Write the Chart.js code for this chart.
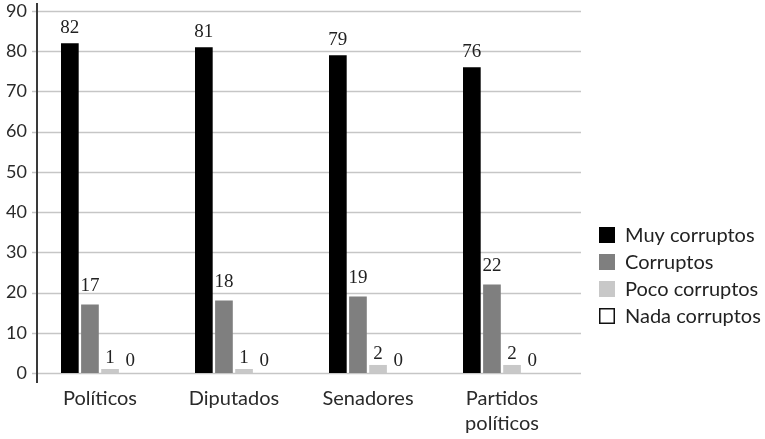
<!DOCTYPE html>
<html>
<head>
<meta charset="utf-8">
<script src="https://cdn.jsdelivr.net/npm/chart.js@4.4.1/dist/chart.umd.min.js"></script>
<style>
  html, body { margin: 0; padding: 0; background: #fff; }
  canvas { display: block; }
</style>
</head>
<body>
<canvas id="c" width="765" height="439"></canvas>
<script>
// Percepción de corrupción por institución (%)
const categories = ['Políticos', 'Diputados', 'Senadores', ['Partidos', 'políticos']];
const seriesNames = ['Muy corruptos', 'Corruptos', 'Poco corruptos', 'Nada corruptos'];
const muyCorruptos = [82, 81, 79, 76];
const corruptos = [17, 18, 19, 22];
const pocoCorruptos = [1, 1, 2, 2];
const nadaCorruptos = [0, 0, 0, 0];
const yMin = 0, yMax = 90, yStep = 10;

const seriesColors = ['#000000', '#7f7f7f', '#c8c8c8', '#ffffff'];
const labelGap = [10, 14, 6, 7];

const sansFont = 'Lato, "Open Sans", "DejaVu Sans", sans-serif';
const serifFont = '"Liberation Serif", "DejaVu Serif", serif';

// Horizontal grid, tick marks and the vertical axis line
const axisPlugin = {
  id: 'axisLines',
  beforeDatasetsDraw(chart) {
    const { ctx, chartArea } = chart;
    const y = chart.scales.y;
    const axisX = chartArea.left + 4;
    ctx.save();
    ctx.strokeStyle = '#c6c6c6';
    ctx.lineWidth = 1.6;
    y.ticks.forEach(t => {
      const py = Math.round(y.getPixelForValue(t.value)) + 0.5;
      ctx.beginPath();
      ctx.moveTo(axisX - 5, py);
      ctx.lineTo(chartArea.right + 12, py);
      ctx.stroke();
    });
    ctx.strokeStyle = '#3a3a3a';
    ctx.lineWidth = 2;
    ctx.beginPath();
    ctx.moveTo(axisX, chartArea.top - 8);
    ctx.lineTo(axisX, chartArea.bottom + 10);
    ctx.stroke();
    ctx.restore();
  }
};

// Value labels above each bar
const valueLabels = {
  id: 'valueLabels',
  afterDatasetsDraw(chart) {
    const { ctx } = chart;
    ctx.save();
    ctx.font = '19px ' + serifFont;
    ctx.fillStyle = '#222';
    ctx.textAlign = 'center';
    ctx.textBaseline = 'alphabetic';
    chart.data.datasets.forEach((ds, i) => {
      const meta = chart.getDatasetMeta(i);
      meta.data.forEach((bar, j) => {
        ctx.fillText(String(ds.data[j]), bar.x, bar.y - labelGap[i]);
      });
    });
    ctx.restore();
  }
};

// Legend on the right
const sideLegend = {
  id: 'sideLegend',
  afterDraw(chart) {
    const { ctx, chartArea } = chart;
    const x0 = chartArea.right + 30;
    const y0 = 235, step = 27, box = 16;
    ctx.save();
    ctx.font = '20px ' + sansFont;
    ctx.textBaseline = 'middle';
    ctx.textAlign = 'left';
    chart.data.datasets.forEach((ds, i) => {
      const cy = y0 + i * step;
      ctx.fillStyle = ds.backgroundColor;
      ctx.fillRect(x0, cy - box / 2, box, box);
      if (ds.legendBorder) {
        ctx.strokeStyle = '#111';
        ctx.lineWidth = 1.5;
        ctx.strokeRect(x0 + 0.75, cy - box / 2 + 0.75, box - 1.5, box - 1.5);
      }
      ctx.fillStyle = '#222';
      ctx.fillText(ds.label, x0 + 26, cy + 1);
    });
    ctx.restore();
  }
};

const seriesData = [muyCorruptos, corruptos, pocoCorruptos, nadaCorruptos];

new Chart(document.getElementById('c'), {
  type: 'bar',
  data: {
    labels: categories,
    datasets: seriesNames.map((name, i) => ({
      label: name,
      data: seriesData[i],
      backgroundColor: seriesColors[i],
      borderWidth: 0,
      legendBorder: i === 3,
      categoryPercentage: 0.6,
      barPercentage: 0.88
    }))
  },
  options: {
    responsive: false,
    animation: false,
    devicePixelRatio: 1,
    layout: { padding: { top: 11, right: 196, left: 0, bottom: 0 } },
    plugins: {
      legend: { display: false },
      tooltip: { enabled: false }
    },
    scales: {
      x: {
        grid: { display: false, drawTicks: false },
        border: { display: false },
        ticks: {
          color: '#2a2a2a',
          padding: 13,
          maxRotation: 0,
          autoSkip: false,
          font: { family: sansFont, size: 20, lineHeight: 1.25 }
        },
        afterFit(scale) { scale.height = 66; scale.paddingLeft = 0; scale.paddingRight = 0; }
      },
      y: {
        min: yMin,
        max: yMax,
        grid: { display: false, drawTicks: false },
        border: { display: false },
        ticks: {
          stepSize: yStep,
          color: '#2a2a2a',
          padding: 6,
          font: { family: sansFont, size: 18 }
        },
        afterFit(scale) { scale.width = 33; scale.paddingTop = 0; scale.paddingBottom = 0; }
      }
    }
  },
  plugins: [axisPlugin, valueLabels, sideLegend]
});
</script>
</body>
</html>
